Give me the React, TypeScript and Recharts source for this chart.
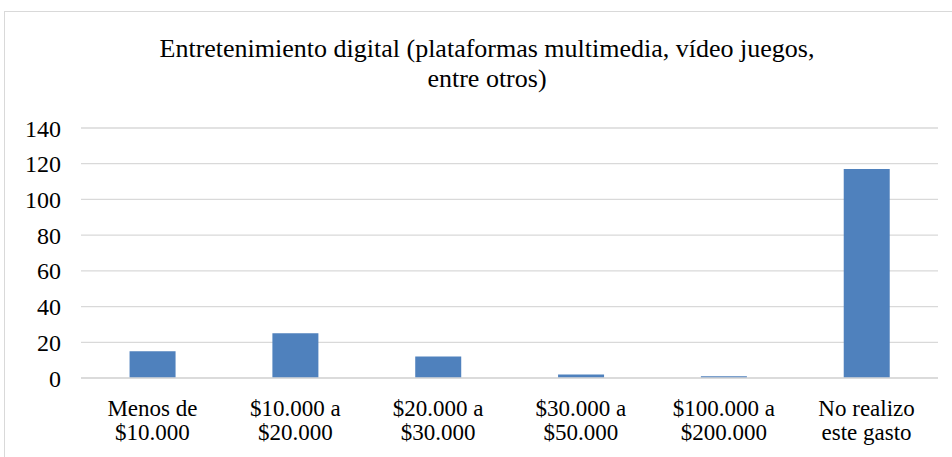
import { Bar, BarChart, CartesianGrid, XAxis, YAxis } from "recharts";

const categories = [
  ["Menos de", "$10.000"],
  ["$10.000 a", "$20.000"],
  ["$20.000 a", "$30.000"],
  ["$30.000 a", "$50.000"],
  ["$100.000 a", "$200.000"],
  ["No realizo", "este gasto"],
];
const counts = [15, 25, 12, 2, 1, 117];
const yTicks = [0, 20, 40, 60, 80, 100, 120, 140];

const data = categories.map((lines, i) => ({
  name: lines.join(" "),
  value: counts[i],
}));

const font = "Liberation Serif, Tinos, Times New Roman, DejaVu Serif, serif";

function CategoryTick(props: any) {
  const { x, index } = props;
  const lines = categories[index] ?? [];
  return (
    <text
      x={x}
      y={416}
      textAnchor="middle"
      style={{ fontFamily: font }}
      fontSize={23}
      fill="#000"
    >
      {lines.map((line: string, i: number) => (
        <tspan key={i} x={x} dy={i === 0 ? 0 : 24}>
          {line}
        </tspan>
      ))}
    </text>
  );
}

export default function App() {
  return (
    <div
      style={{
        position: "absolute",
        left: 0,
        top: 0,
        width: 952,
        height: 457,
        overflow: "hidden",
        background: "#fff",
        fontFamily: font,
      }}
    >
      <div
        style={{
          position: "absolute",
          left: 4,
          top: 11,
          width: 1000,
          height: 500,
          border: "1px solid #d9d9d9",
        }}
      />
      <div
        style={{
          position: "absolute",
          left: 0,
          top: 34,
          width: 974,
          textAlign: "center",
          fontSize: 26,
          lineHeight: "30px",
          color: "#000",
        }}
      >
        Entretenimiento digital (plataformas multimedia, vídeo juegos,
        <br />
        entre otros)
      </div>
      <div style={{ position: "absolute", left: 0, top: 0 }}>
        <BarChart
          width={952}
          height={457}
          data={data}
          margin={{ top: 128, right: 14, bottom: 0, left: 0 }}
          barCategoryGap="34%"
          style={{ fontFamily: font }}
        >
          <CartesianGrid vertical={false} stroke="#d9d9d9" strokeWidth={1.3} />
          <XAxis
            dataKey="name"
            height={79}
            axisLine={{ stroke: "#d9d9d9", strokeWidth: 1.3 }}
            tickLine={false}
            interval={0}
            tick={<CategoryTick />}
          />
          <YAxis
            width={81}
            domain={[0, 140]}
            ticks={yTicks}
            axisLine={false}
            tickLine={false}
            tickSize={0}
            tickMargin={20}
            tick={{ fill: "#000", fontSize: 24, style: { fontFamily: font } }}
          />
          <Bar dataKey="value" fill="#4f81bd" isAnimationActive={false} />
        </BarChart>
      </div>
    </div>
  );
}
